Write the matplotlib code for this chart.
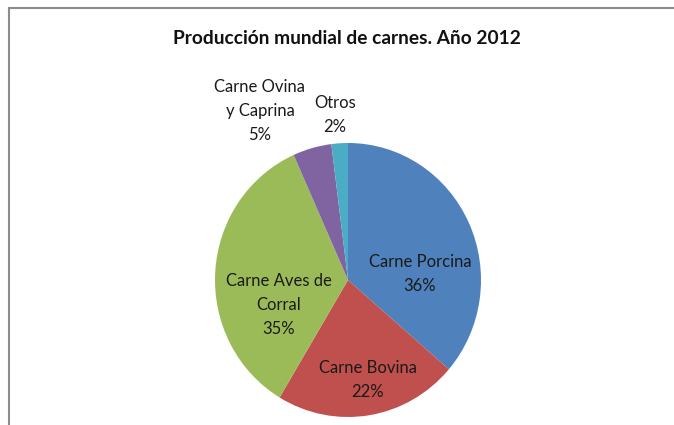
import matplotlib.pyplot as plt
from matplotlib.lines import Line2D

# datos (porcentaje de la producción mundial, 2012)
categorias = ['Carne Porcina', 'Carne Bovina', 'Carne Aves de\nCorral',
              'Carne Ovina\ny Caprina', 'Otros']
valores = [36.3, 22.3, 34.7, 4.7, 2.0]
colores = ['#4F81BD', '#C0504D', '#9BBB59', '#8064A2', '#4BACC6']

W, H = 674, 425
fig = plt.figure(figsize=(W / 100, H / 100), dpi=100)
plt.rcParams['font.family'] = ['Lato', 'DejaVu Sans']

# pie centrado en (348, 280) px, radio ~133 x 137 px
cx, cy, rx, ry = 348, 280, 133, 137
ax = fig.add_axes([(cx - rx) / W, (H - cy - ry) / H, 2 * rx / W, 2 * ry / H])
ax.pie(valores, colors=colores, startangle=90, counterclock=False,
       radius=1, center=(0, 0), wedgeprops=dict(linewidth=0))
ax.set_aspect('auto')
ax.set_xlim(-1, 1)
ax.set_ylim(-1, 1)
ax.axis('off')

# marco del gráfico (solo bordes superior e izquierdo visibles)
fig.add_artist(Line2D([9 / W, 1], [1 - 8 / H, 1 - 8 / H], color='#8c8c8c', lw=1.5))
fig.add_artist(Line2D([9 / W, 9 / W], [0, 1 - 8 / H], color='#8c8c8c', lw=1.5))

fig.text(347 / W, 1 - 38 / H, 'Producción mundial de carnes. Año 2012',
         ha='center', va='center', fontsize=13.8, fontweight='bold', color='#111111')

# posiciones de las etiquetas (px)
pos = [(420, 274), (368, 380), (279, 305), (260, 111), (335, 115)]
total = sum(valores)
for cat, v, (px, py) in zip(categorias, valores, pos):
    txt = '%s\n%d%%' % (cat, round(v / total * 100))
    fig.text(px / W, 1 - py / H, txt, ha='center', va='center',
             fontsize=12, color='#1a1a1a', linespacing=1.6)

fig.savefig('out.png', dpi=100)
